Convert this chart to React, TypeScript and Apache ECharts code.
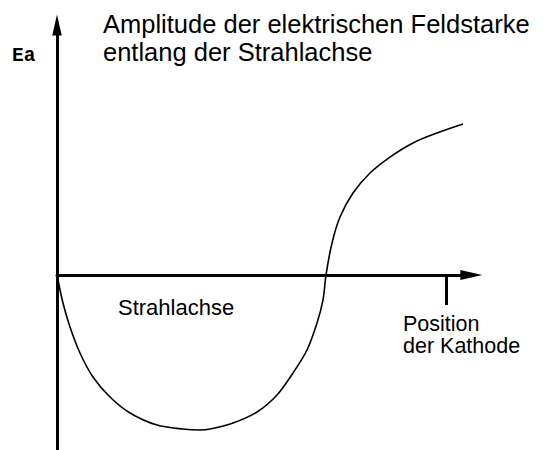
import React, { useEffect, useRef } from "react";
import * as echarts from "echarts";

// Position along the beam axis (0 = origin, 1 = cathode position)
const positions = [
  0, 0.0154, 0.0334, 0.0591, 0.0925, 0.1362, 0.1877, 0.2571, 0.3239, 0.3676,
  0.3933, 0.4524, 0.5141, 0.5656, 0.6067, 0.6427, 0.6684, 0.6838, 0.6915,
  0.7069, 0.7275, 0.7609, 0.8046, 0.856, 0.9152, 0.9769, 1.0437,
];

// Relative amplitude of the electric field strength
const amplitudes = [
  0, -0.181, -0.335, -0.503, -0.658, -0.787, -0.89, -0.968, -0.994, -1.0,
  -0.994, -0.955, -0.884, -0.774, -0.632, -0.484, -0.31, -0.161, 0,
  0.206, 0.374, 0.529, 0.658, 0.761, 0.852, 0.916, 0.974,
];

const titleLines = [
  "Amplitude der elektrischen Feldstarke",
  "entlang der Strahlachse",
];
const yAxisLabel = "Ea";
const axisCaption = "Strahlachse";
const cathodeLines = ["Position", "der Kathode"];
const cathodeTicks = [1];

const X_MIN = 0;
const X_MAX = 1.065;
const Y_MIN = -1.129;
const Y_MAX = 1.613;

const arrowPath = "path://M5,0L10,22L0,22Z";
const sans = "Liberation Sans";

export default function App() {
  const ref = useRef<HTMLDivElement>(null);

  useEffect(() => {
    if (!ref.current) return;
    const chart = echarts.init(ref.current, undefined, { renderer: "svg" });

    const data = positions.map((x, i) => [x, amplitudes[i]]);

    const textEl = (
      text: string,
      x: number,
      y: number,
      size: number,
      lineHeight: number,
      extra: any = {}
    ) => ({
      type: "text",
      x,
      y,
      style: {
        text,
        fill: "#000",
        fontFamily: sans,
        fontSize: size,
        lineHeight,
        align: "left",
        verticalAlign: "top",
        ...extra,
      },
    });

    chart.setOption({
      animation: false,
      backgroundColor: "#fff",
      grid: { left: 57, top: 25, width: 414.3, height: 425, containLabel: false },
      xAxis: {
        type: "value",
        min: X_MIN,
        max: X_MAX,
        interval: 1,
        axisLine: {
          onZero: true,
          symbol: ["none", arrowPath],
          symbolSize: [10, 22],
          lineStyle: { color: "#000", width: 3 },
        },
        axisTick: {
          show: true,
          customValues: cathodeTicks,
          length: 30,
          inside: false,
          lineStyle: { color: "#000", width: 3 },
        },
        axisLabel: { show: false },
        splitLine: { show: false },
      },
      yAxis: {
        type: "value",
        min: Y_MIN,
        max: Y_MAX,
        axisLine: {
          show: true,
          onZero: true,
          symbol: ["none", arrowPath],
          symbolSize: [9.5, 22],
          lineStyle: { color: "#000", width: 3 },
        },
        axisTick: { show: false },
        axisLabel: { show: false },
        splitLine: { show: false },
      },
      series: [
        {
          type: "line",
          data,
          smooth: 0.3,
          showSymbol: false,
          clip: false,
          lineStyle: { color: "#000", width: 1.6 },
          z: 1,
        },
      ],
      graphic: [
        textEl(titleLines.join("\n"), 103, 10, 25.5, 28),
        textEl(yAxisLabel, 12, 46, 19.5, 20, {
          fontFamily: "Liberation Mono",
          fontWeight: "bold",
        }),
        textEl(axisCaption, 118, 296, 22, 22),
        textEl(cathodeLines.join("\n"), 403, 312.5, 21.5, 22),
      ],
    });

    return () => chart.dispose();
  }, []);

  return (
    <div
      ref={ref}
      style={{ position: "fixed", left: 0, top: 0, width: 544, height: 450, background: "#fff" }}
    />
  );
}
